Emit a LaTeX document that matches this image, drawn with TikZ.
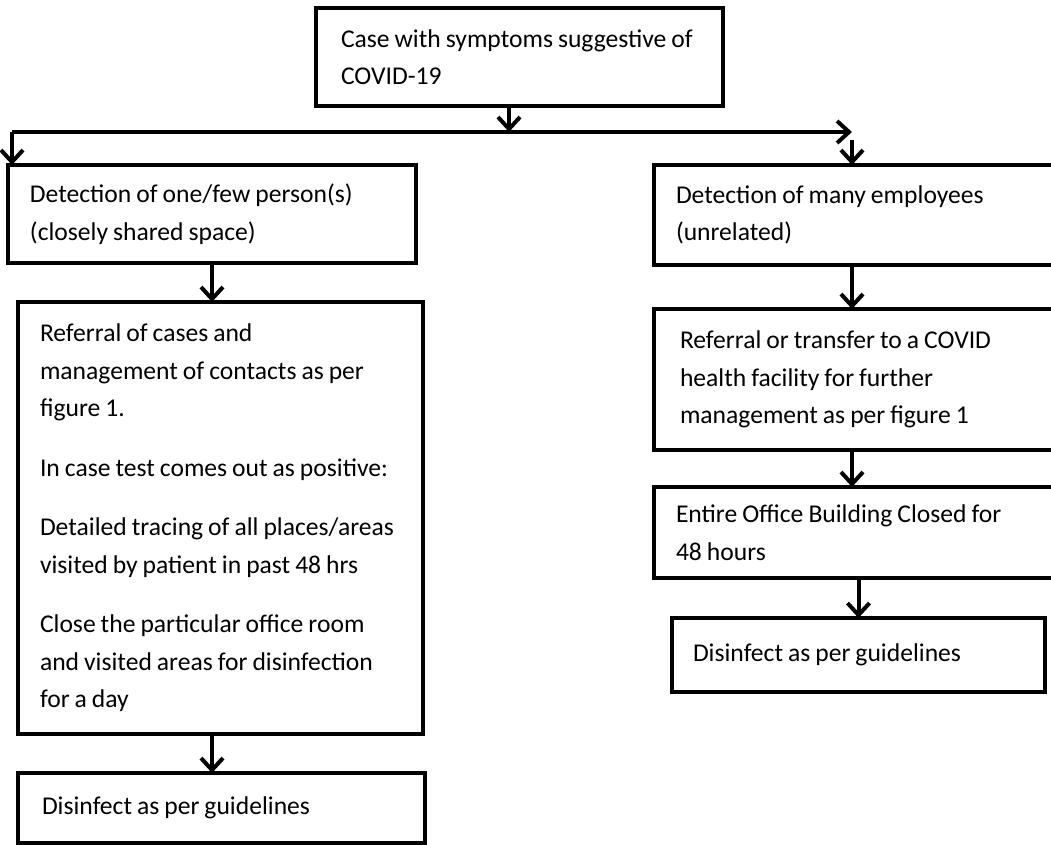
\documentclass[tikz,border=0pt]{standalone}
\usepackage{fontspec}
\setmainfont{Carlito}
\usetikzlibrary{arrows.meta}

\tikzset{
  stepbox/.style={draw, line width=1.6pt, anchor=north west, outer sep=0pt,
    align=left, inner xsep=11pt, inner ysep=0pt,
    font=\fontsize{12.8}{18.75}\selectfont,
    execute at begin node={\spaceskip=2.5pt plus 1pt\relax}},
  arr/.style={line width=2pt, -{Straight Barb[length=6pt,width=11pt,line width=2pt]}}
}

\begin{document}
\begin{tikzpicture}[x=0.5pt, y=-0.5pt]
    \useasboundingbox (0,0) rectangle (1051,845);

    % top box and split
    \node[stepbox, inner xsep=12.5pt, minimum width=203.5pt, minimum height=49pt, text width=178.5pt] (case) at (316,8)
        {\mbox{Case with symptoms suggestive of}\\COVID-19};
    \coordinate (split) at (509,132);
    \coordinate (jl) at (12,132);
    \coordinate (jr) at (852,132);

    % left branch
    \node[stepbox, minimum width=204pt, minimum height=49pt, text width=182pt] (det1) at (8,165)
        {\mbox{Detection of one/few person(s)}\\\mbox{(closely shared space)}};
    \node[stepbox, minimum width=202.5pt, minimum height=216pt, text width=180.5pt] (ref1) at (18,302)
        {\mbox{Referral of cases and}\\\mbox{management of contacts as per}\\figure 1.\\[11pt]
         \mbox{In case test comes out as positive:}\\[11pt]
         \mbox{Detailed tracing of all places/areas}\\\mbox{visited by patient in past 48 hrs}\\[11pt]
         \mbox{Close the particular office room}\\\mbox{and visited areas for disinfection}\\\mbox{for a day}};
    \node[stepbox, inner xsep=12pt, minimum width=203.5pt, minimum height=35pt, text width=179.5pt] (dis1) at (18,773)
        {\mbox{Disinfect as per guidelines}};

    % right branch
    \node[stepbox, minimum width=201pt, minimum height=50pt, text width=179pt] (det2) at (654,165)
        {\mbox{Detection of many employees}\\(unrelated)};
    \node[stepbox, inner xsep=13pt, minimum width=201pt, minimum height=70.5pt, text width=175pt] (ref2) at (654,309)
        {\mbox{Referral or transfer to a COVID}\\\mbox{health facility for further}\\\mbox{management as per figure 1}};
    \node[stepbox, minimum width=201pt, minimum height=45.5pt, text width=179pt] (close) at (654,487)
        {\mbox{Entire Office Building Closed for}\\\mbox{48 hours}};
    \node[stepbox, inner xsep=10.5pt, minimum width=186.5pt, minimum height=37pt, text width=165.5pt] (dis2) at (672,618)
        {\mbox{Disinfect as per guidelines}};

    % connectors
    \draw[arr] (case.south -| split) -- (split);
    \draw[arr] (jl) -- (jr);
    \draw[arr] (jl) -- (jl |- det1.north);
    \draw[arr] ([yshift=-4pt]jr) -- (jr |- det2.north);
    \draw[arr] (det1.south) -- (det1.south |- ref1.north);
    \draw[arr] (ref1.south -| det1.south) -- (dis1.north -| det1.south);
    \draw[arr] (det2.south -| jr) -- (ref2.north -| jr);
    \draw[arr] (ref2.south -| jr) -- (close.north -| jr);
    \draw[arr] (close.south -| dis2.north) -- (dis2.north);

\end{tikzpicture}
\end{document}
